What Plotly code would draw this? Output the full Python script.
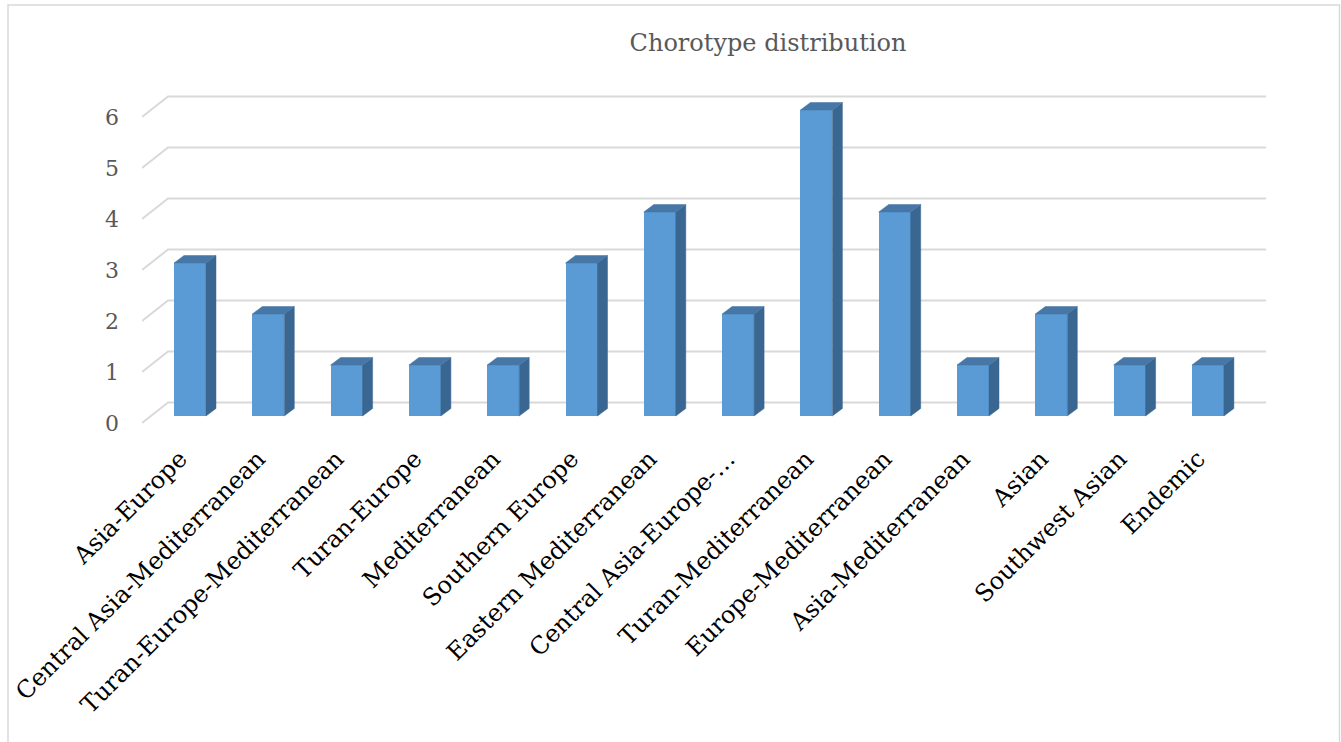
import numpy as np
import plotly.graph_objects as go

categories = [
    "Asia-Europe", "Central Asia-Mediterranean", "Turan-Europe-Mediterranean",
    "Turan-Europe", "Mediterranean", "Southern Europe", "Eastern Mediterranean",
    "Central Asia-Europe-…", "Turan-Mediterranean", "Europe-Mediterranean",
    "Asia-Mediterranean", "Asian", "Southwest Asian", "Endemic",
]
counts = [3, 2, 1, 1, 1, 3, 4, 2, 6, 4, 1, 2, 1, 1]
y_ticks = [0, 1, 2, 3, 4, 5, 6]
title_text = "Chorotype distribution"

# ---- geometry (pixels) ----
W, H = 1341, 742
ML, MR, MT, MB = 142, 75, 80, 312
PW, PH = W - ML - MR, H - MT - MB
XSTEP = 78.3          # px per category
FIRST_CENTER = 190    # px of first bar centre
YUNIT = 51.0          # px per value unit
BASE_PX = 416         # px of value 0 (bar front)

xr0 = -(FIRST_CENTER - ML) / XSTEP
xr1 = xr0 + PW / XSTEP
yr1 = (BASE_PX - MT) / YUNIT
yr0 = yr1 - PH / YUNIT

def dx(px):
    return px / XSTEP

def dy(px):
    return px / YUNIT

x = np.arange(len(categories), dtype=float)
vals = np.array(counts, dtype=float)
BAR_W = 32 / XSTEP
DEPTH_X, DEPTH_Y = dx(10), dy(7.5)

# gridlines (3D style: short diagonal then back wall line), drawn below traces
grid_shapes = []
for v in y_ticks:
    pts = [(xr0, v - dy(7)), (xr0 + dx(26), v + dy(13.5)), (xr1, v + dy(13.5))]
    path = "M {} {} L {} {} L {} {}".format(*[c for p in pts for c in p])
    grid_shapes.append(dict(type="path", xref="x", yref="y", path=path,
                            line=dict(color="#d9d9d9", width=2), layer="below"))

# side faces and tops
sx, sy, tx, ty = [], [], [], []
for xi, v in zip(x, vals):
    r = xi + BAR_W / 2
    l = xi - BAR_W / 2
    sx += [r, r + DEPTH_X, r + DEPTH_X, r, r, None]
    sy += [0, DEPTH_Y, v + DEPTH_Y, v, 0, None]
    tx += [l, l + DEPTH_X, r + DEPTH_X, r, l, None]
    ty += [v, v + DEPTH_Y, v + DEPTH_Y, v, v, None]

fig = go.Figure()
fig.add_trace(go.Scatter(x=sx, y=sy, mode="lines", fill="toself",
                         fillcolor="#3a6791", line=dict(color="#3a6791", width=0.5),
                         hoverinfo="skip", showlegend=False))
fig.add_trace(go.Scatter(x=tx, y=ty, mode="lines", fill="toself",
                         fillcolor="#4677a6", line=dict(color="#4677a6", width=0.5),
                         hoverinfo="skip", showlegend=False))
fig.add_trace(go.Bar(x=x, y=vals, width=BAR_W, marker=dict(color="#5b9bd5", line=dict(width=0)),
                     showlegend=False, name="Chorotype"))

border = dict(type="rect", xref="paper", yref="paper",
              x0=-(ML - 8) / PW, x1=1 + (MR - 1.5) / PW,
              y0=-(MB + 20) / PH, y1=1 + (MT - 5) / PH,
              line=dict(color="#d9d9d9", width=1.5), fillcolor="rgba(0,0,0,0)",
              layer="below")

fig.update_layout(
    width=W, height=H,
    margin=dict(l=ML, r=MR, t=MT, b=MB, autoexpand=False),
    paper_bgcolor="white", plot_bgcolor="white",
    title=dict(text=title_text, x=768 / W, xanchor="center", xref="container",
               y=1 - 43 / H, yanchor="middle", yref="container",
               font=dict(family="DejaVu Serif", size=24, color="#595959")),
    xaxis=dict(range=[xr0, xr1], tickmode="array", tickvals=x, ticktext=categories,
               tickangle=-45, showgrid=False, zeroline=False, showline=False,
               ticks="", ticklabelstandoff=9, ticklabelshift=-10, automargin=False,
               tickfont=dict(family="DejaVu Serif", size=24, color="black"),
               fixedrange=True),
    yaxis=dict(range=[yr0, yr1], tickmode="array",
               tickvals=[v - dy(7) for v in y_ticks], ticktext=[str(v) for v in y_ticks],
               showgrid=False, zeroline=False, showline=False, ticks="",
               ticklabelstandoff=22, automargin=False,
               tickfont=dict(family="DejaVu Serif", size=22, color="#595959"),
               fixedrange=True),
    bargap=0,
    shapes=[border] + grid_shapes,
)

fig.write_html("out.html")
